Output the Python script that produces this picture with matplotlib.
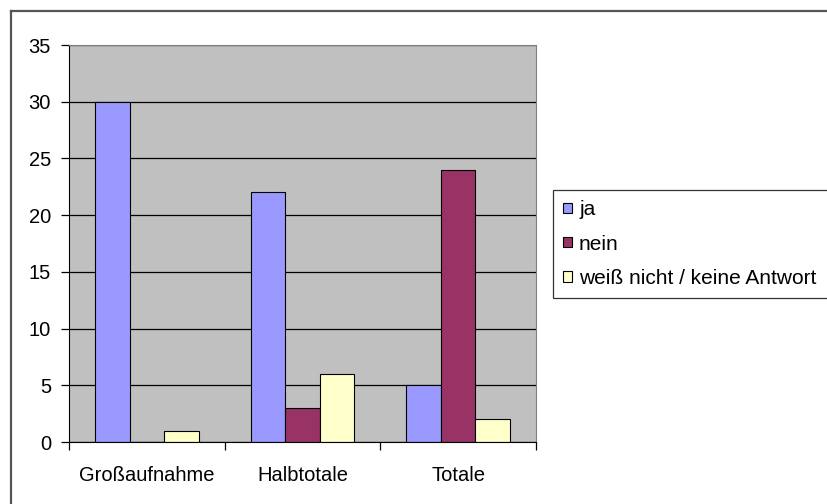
import numpy as np
import matplotlib.pyplot as plt
from matplotlib.lines import Line2D

plt.rcParams['font.family'] = ['Liberation Sans', 'DejaVu Sans']

# Daten
kategorien = ['Großaufnahme', 'Halbtotale', 'Totale']
serien = ['ja', 'nein', 'weiß nicht / keine Antwort']
ja = [30, 22, 5]
nein = [0, 3, 24]
weiss_nicht = [1, 6, 2]
farben = ['#9999FF', '#993366', '#FFFFCC']

fig = plt.figure(figsize=(8.27, 5.04), dpi=100)
ax = fig.add_axes([0.0834, 0.123, 0.5647, 0.7877])
ax.set_facecolor('#C0C0C0')

x = np.arange(len(kategorien))
breite = 1 / 4.5  # Excel: Abstand 150%
for i, (werte, name) in enumerate(zip([ja, nein, weiss_nicht], serien)):
    ax.bar(x + (i - 1) * breite, werte, breite, color=farben[i],
           edgecolor='black', linewidth=0.8, label=name, zorder=3)

ax.set_xlim(-0.5, len(kategorien) - 0.5)
ax.set_ylim(0, 35)
ax.set_yticks(range(0, 36, 5))
ax.yaxis.grid(True, color='black', linewidth=0.9, zorder=1)
ax.set_axisbelow(True)

# Kategorien in der Mitte, Striche an den Grenzen
ax.set_xticks(x)
ax.set_xticklabels(kategorien, fontsize=14.5)
ax.set_xticks(np.arange(-0.5, len(kategorien)), minor=True)
ax.tick_params(axis='x', which='major', length=0, pad=17)
ax.tick_params(axis='x', which='minor', length=6, width=0.9, color='black', direction='out')
ax.tick_params(axis='y', length=6, width=0.9, color='black', labelsize=14.5, pad=7)

for s in ['top', 'right']:
    ax.spines[s].set_color('#808080')
    ax.spines[s].set_linewidth(0.8)
ax.spines['left'].set_color('black')
ax.spines['bottom'].set_color('black')
ax.spines['bottom'].set_zorder(4)

# Legende (rechts abgeschnitten wie im Original)
leg = fig.legend(loc='upper left', bbox_to_anchor=(0.6687, 0.3, 0.5, 0.323),
                 mode='expand', fontsize=15, frameon=True, fancybox=False,
                 handlelength=0.4, handleheight=0.4, handletextpad=0.35,
                 labelspacing=0.73, borderpad=0.5, borderaxespad=0)
leg.get_frame().set_edgecolor('black')
leg.get_frame().set_linewidth(0.9)

# Rahmen oben und links
fig.add_artist(Line2D([10.5 / 827, 10.5 / 827], [0, 1 - 10.5 / 504], color='#555555', linewidth=1.6))
fig.add_artist(Line2D([10.5 / 827, 1], [1 - 10.5 / 504, 1 - 10.5 / 504], color='#555555', linewidth=1.6))

plt.savefig('out.png', dpi=100)
